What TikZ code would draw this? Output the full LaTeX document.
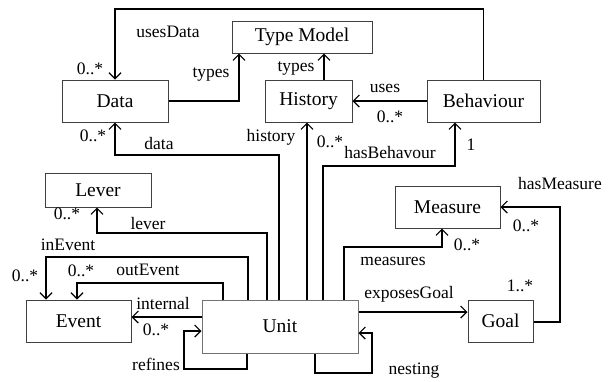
\documentclass[tikz,border=0pt]{standalone}
\usepackage{fontspec}
\setmainfont{Liberation Serif}
\usetikzlibrary{arrows.meta}
\begin{document}
\begin{tikzpicture}[x=1pt,y=-1pt,
  box/.style={draw=black!75,line width=1pt,fill=white,inner sep=0pt,font=\fontsize{19.5}{22}\selectfont},
  conn/.style={line width=1.2pt,-{Straight Barb[length=6pt,width=12pt,line width=1.2pt]}},
  plain/.style={line width=1.2pt},
  lbl/.style={inner sep=0pt,font=\fontsize{17.5}{20}\selectfont}]
\useasboundingbox (0,0) rectangle (611,381);
% boxes
\node[box,minimum width=140pt,minimum height=32pt] (typemodel) at (302,37) {Type Model};
\node[box,minimum width=106pt,minimum height=42pt] (data) at (115,101) {Data};
\node[box,minimum width=87pt,minimum height=42pt] (history) at (308.5,101) {History};
\node[box,minimum width=113pt,minimum height=42pt] (behaviour) at (483.5,101) {Behaviour};
\node[box,minimum width=106pt,minimum height=34pt] (lever) at (98,190) {Lever};
\node[box,minimum width=105pt,minimum height=42pt] (measure) at (447.5,207) {Measure};
\node[box,minimum width=105pt,minimum height=42pt] (event) at (78.5,321) {Event};
\node[box,draw=black!55,minimum width=156pt,minimum height=53pt] (unit) at (280,326.5) {Unit};
\node[box,minimum width=65pt,minimum height=42pt] (goal) at (500.5,321) {Goal};
% connectors
\draw[conn] (behaviour.north) -- (behaviour.north |- 0,9) -| (data.north);
\draw[conn] (data.east) -| (typemodel.south -| 239,0);
\draw[conn] (history.north -| 324,0) -- (typemodel.south -| 324,0);
\draw[conn] (behaviour.west) -- (history.east);
\draw[conn] (unit.north -| 279,0) |- (data.south |- 0,155) -- (data.south);
\draw[conn] (unit.north -| 307,0) -- (history.south -| 307,0);
\draw[conn] (unit.north -| 323,0) |- (455,166) -- (behaviour.south -| 455,0);
\draw[conn] (unit.north -| 267,0) |- (97,233) -- (lever.south -| 97,0);
\draw[conn] (unit.north -| 248,0) |- (46,257) -- (event.north -| 46,0);
\draw[conn] (unit.north -| 223,0) |- (77,283) -- (event.north -| 77,0);
\draw[conn] (unit.west |- 0,317) -- (event.east |- 0,317);
\draw[conn] (unit.south -| 247,0) |- (184,369) |- (unit.west |- 0,331);
\draw[conn] (unit.south -| 315,0) |- (372,373) |- (unit.east |- 0,333);
\draw[conn] (unit.north -| 344,0) |- (442,247) -- (measure.south -| 442,0);
\draw[conn] (unit.east |- 0,312) -- (goal.west |- 0,312);
\draw[conn] (goal.east |- 0,322) -| (560,207) -- (measure.east);
% labels
\node[lbl] (l1) at (168,32) {usesData};
\node[lbl] (l2) at (90,69) {0..*};
\node[lbl] (l3) at (211,74) {types};
\node[lbl] (l4) at (296,68) {types};
\node[lbl] (l5) at (385,88) {uses};
\node[lbl] (l6) at (390,117) {0..*};
\node[lbl] (l7) at (159,144) {data};
\node[lbl] (l8) at (93,136) {0..*};
\node[lbl] (l9) at (271,137) {history};
\node[lbl] (l10) at (330,142) {0..*};
\node[lbl] (l11) at (390,153) {hasBehavour};
\node[lbl] (l12) at (471,145) {1};
\node[lbl] (l13) at (148,224) {lever};
\node[lbl] (l14) at (67,214) {0..*};
\node[lbl] (l15) at (68,245) {inEvent};
\node[lbl] (l16) at (25,276) {0..*};
\node[lbl] (l17) at (148,270) {outEvent};
\node[lbl] (l18) at (81,271) {0..*};
\node[lbl] (l19) at (163,304) {internal};
\node[lbl] (l20) at (156,330) {0..*};
\node[lbl] (l21) at (156,364) {refines};
\node[lbl] (l22) at (414,371) {nesting};
\node[lbl] (l23) at (393,261) {measures};
\node[lbl] (l24) at (467,245) {0..*};
\node[lbl] (l25) at (409,294) {exposesGoal};
\node[lbl] (l26) at (520,286) {1..*};
\node[lbl] (l27) at (560,184) {hasMeasure};
\node[lbl] (l28) at (526,226) {0..*};
\end{tikzpicture}
\end{document}
